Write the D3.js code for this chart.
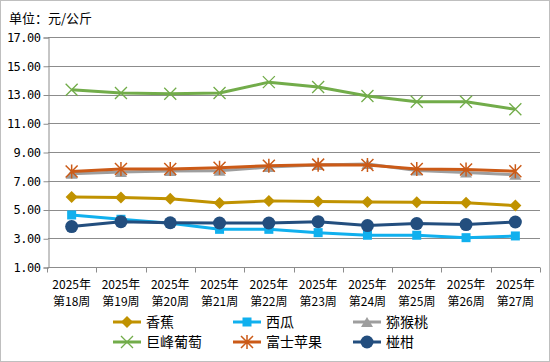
<!DOCTYPE html>
<html>
<head>
<meta charset="utf-8">
<script src="https://cdn.jsdelivr.net/npm/d3@7"></script>
<style>
  body { margin: 0; background: #fff; }
  svg { display: block; font-family: "Noto Sans CJK SC", "DejaVu Sans", sans-serif; }
</style>
</head>
<body>
<div id="chart"></div>
<script>
// categories and values
const weeks = ["18", "19", "20", "21", "22", "23", "24", "25", "26", "27"];
const yTicks = [1, 3, 5, 7, 9, 11, 13, 15, 17];

const banana = [5.87, 5.83, 5.74, 5.46, 5.60, 5.55, 5.52, 5.50, 5.47, 5.27];
const watermelon = [4.62, 4.32, 4.04, 3.62, 3.62, 3.39, 3.21, 3.21, 3.04, 3.16];
const kiwi = [7.49, 7.61, 7.68, 7.70, 7.95, 8.10, 8.17, 7.71, 7.57, 7.42];
const grape = [13.33, 13.10, 13.05, 13.10, 13.86, 13.52, 12.89, 12.50, 12.50, 11.97];
const apple = [7.64, 7.82, 7.82, 7.90, 8.05, 8.12, 8.10, 7.82, 7.78, 7.66];
const ponkan = [3.81, 4.15, 4.08, 4.06, 4.06, 4.15, 3.88, 4.02, 3.95, 4.13];

const series = [
  { name: "香蕉", values: banana, color: "#C09200", marker: "diamond" },
  { name: "西瓜", values: watermelon, color: "#10B0EE", marker: "square" },
  { name: "猕猴桃", values: kiwi, color: "#9E9E9E", marker: "triangle" },
  { name: "巨峰葡萄", values: grape, color: "#72AC4A", marker: "cross" },
  { name: "富士苹果", values: apple, color: "#CB5A17", marker: "star" },
  { name: "椪柑", values: ponkan, color: "#234E7E", marker: "circle" }
];

const width = 550, height = 362;
const margin = { left: 48, right: 10, top: 37, bottom: 95 };

const svg = d3.select("#chart").append("svg")
  .attr("width", width)
  .attr("height", height);

// outer frame
svg.append("rect")
  .attr("x", 0.5).attr("y", 0.5)
  .attr("width", width - 1).attr("height", height - 1)
  .attr("fill", "#fff")
  .attr("stroke", "#BFBFBF");

svg.append("text")
  .attr("x", 9).attr("y", 23)
  .attr("font-size", 13)
  .attr("fill", "#000")
  .text("单位：元/公斤");

const x = d3.scaleBand()
  .domain(weeks)
  .range([margin.left - 1, width - margin.right]);

const y = d3.scaleLinear()
  .domain([1, 17])
  .range([height - margin.bottom, margin.top]);

// grid lines
svg.append("g")
  .selectAll("line")
  .data(yTicks.slice(1))
  .enter()
  .append("line")
  .attr("x1", margin.left)
  .attr("x2", width - margin.right)
  .attr("y1", d => Math.round(y(d)) + 0.5)
  .attr("y2", d => Math.round(y(d)) + 0.5)
  .attr("stroke", "#8C8C8C")
  .attr("stroke-width", 1);

// y axis
const yAxis = svg.append("g")
  .attr("transform", `translate(${margin.left + 0.5},0.5)`)
  .call(d3.axisLeft(y).tickValues(yTicks).tickFormat(d3.format(".2f")).tickSize(5).tickPadding(3));
yAxis.selectAll("text").attr("font-size", 12).attr("fill", "#000")
  .attr("font-family", "'DejaVu Sans Mono', monospace").attr("letter-spacing", -0.5);

// x axis with ticks at category edges
const xAxisG = svg.append("g")
  .attr("transform", `translate(0,${Math.round(y(1)) + 0.5})`);
xAxisG.append("line")
  .attr("x1", margin.left).attr("x2", width - margin.right)
  .attr("stroke", "#8C8C8C");
xAxisG.selectAll("line.tick")
  .data(weeks.concat(["end"]))
  .enter()
  .append("line")
  .attr("class", "tick")
  .attr("x1", (d, i) => Math.round(x.range()[0] + i * x.step()) + 0.5)
  .attr("x2", (d, i) => Math.round(x.range()[0] + i * x.step()) + 0.5)
  .attr("y1", 0).attr("y2", 5)
  .attr("stroke", "#8C8C8C");

const xLabels = xAxisG.selectAll("text.lbl")
  .data(weeks)
  .enter()
  .append("text")
  .attr("class", "lbl")
  .attr("text-anchor", "middle")
  .attr("font-size", 12)
  .attr("fill", "#000");
xLabels.append("tspan")
  .attr("x", d => x(d) + x.bandwidth() / 2)
  .attr("y", 21)
  .text("2025年");
xLabels.append("tspan")
  .attr("x", d => x(d) + x.bandwidth() / 2)
  .attr("y", 38)
  .text(d => `第${d}周`);

svg.selectAll(".domain").attr("stroke", "#8C8C8C");
svg.selectAll(".tick line").attr("stroke", "#8C8C8C");

function drawMarker(g, type, color, cx, cy) {
  if (type === "diamond") {
    g.append("path")
      .attr("d", `M${cx},${cy - 6}L${cx + 6},${cy}L${cx},${cy + 6}L${cx - 6},${cy}Z`)
      .attr("fill", color);
  } else if (type === "square") {
    g.append("rect")
      .attr("x", cx - 4.5).attr("y", cy - 4.5)
      .attr("width", 9).attr("height", 9)
      .attr("fill", color);
  } else if (type === "triangle") {
    g.append("path")
      .attr("d", `M${cx},${cy - 5}L${cx + 6},${cy + 5}L${cx - 6},${cy + 5}Z`)
      .attr("fill", color);
  } else if (type === "circle") {
    g.append("circle")
      .attr("cx", cx).attr("cy", cy).attr("r", 6.5)
      .attr("fill", color);
  } else if (type === "cross") {
    g.append("path")
      .attr("d", `M${cx - 6},${cy - 6}L${cx + 6},${cy + 6}M${cx + 6},${cy - 6}L${cx - 6},${cy + 6}`)
      .attr("stroke", color).attr("stroke-width", 1.3).attr("fill", "none");
  } else if (type === "star") {
    g.append("path")
      .attr("d", `M${cx - 6},${cy - 6}L${cx + 6},${cy + 6}M${cx + 6},${cy - 6}L${cx - 6},${cy + 6}M${cx},${cy - 7}L${cx},${cy + 7}`)
      .attr("stroke", color).attr("stroke-width", 1.5).attr("fill", "none");
  }
}

const line = d3.line()
  .x((d, i) => x(weeks[i]) + x.bandwidth() / 2)
  .y(d => y(d));

// series, drawn in legend order so later ones sit on top
series.forEach(s => {
  const g = svg.append("g");
  g.append("path")
    .datum(s.values)
    .attr("d", line)
    .attr("fill", "none")
    .attr("stroke", s.color)
    .attr("stroke-width", 3)
    .attr("stroke-linejoin", "round");
  s.values.forEach((v, i) => {
    drawMarker(g, s.marker, s.color, x(weeks[i]) + x.bandwidth() / 2, y(v));
  });
});

// legend: 3 columns, 2 rows
const legend = svg.append("g");
series.forEach((s, i) => {
  const lx = 113 + (i % 3) * 120;
  const ly = 322 + Math.floor(i / 3) * 20;
  const g = legend.append("g");
  g.append("line")
    .attr("x1", lx).attr("x2", lx + 28)
    .attr("y1", ly).attr("y2", ly)
    .attr("stroke", s.color).attr("stroke-width", 3);
  drawMarker(g, s.marker, s.color, lx + 14, ly);
  g.append("text")
    .attr("x", lx + 33).attr("y", ly + 5)
    .attr("font-size", 14)
    .attr("fill", "#000")
    .text(s.name);
});
</script>
</body>
</html>
